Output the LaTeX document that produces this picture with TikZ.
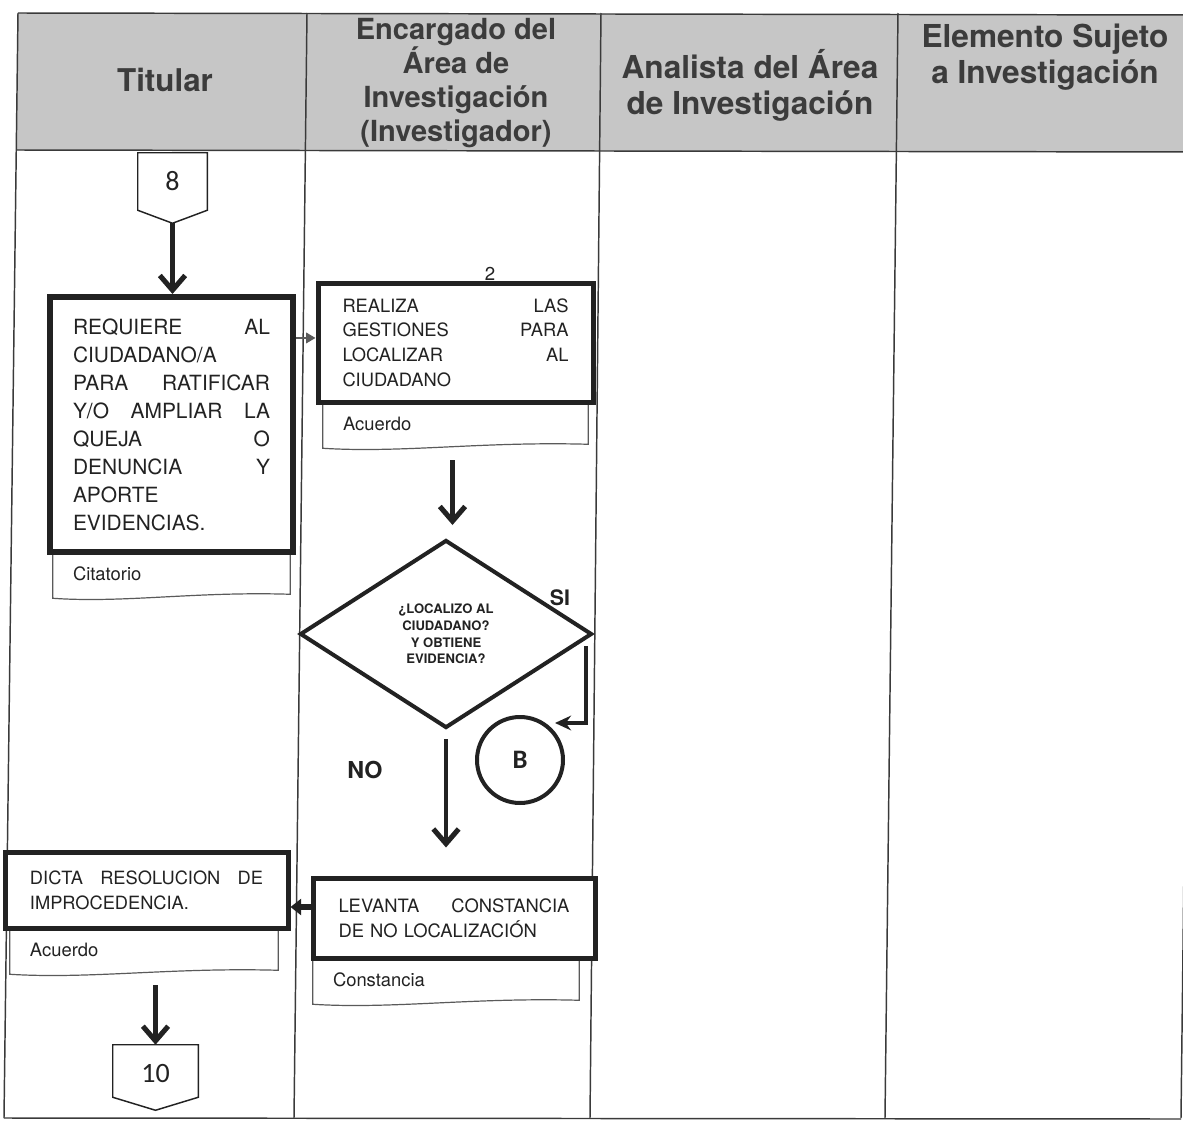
\documentclass[tikz,border=0pt]{standalone}
\usepackage{fontspec}
\setmainfont{TeX Gyre Heros}
\newfontfamily\calfont{Carlito}
\usetikzlibrary{arrows.meta,shapes.geometric,calc}
\definecolor{hdrfill}{HTML}{C6C6C6}
\definecolor{hdrtext}{HTML}{3C3C3C}
\definecolor{inkc}{HTML}{222222}
\definecolor{linec}{HTML}{3A3A3A}
\definecolor{docc}{HTML}{5A5A5A}
\newcommand\docshape[1]{\draw[docline] (#1.north west) -- ($(#1.south west)+(0,2)$)
  .. controls ($(#1.south west)!0.3!(#1.south east)+(0,7)$) and ($(#1.south west)!0.6!(#1.south east)+(0,-5)$)
  .. ($(#1.south east)+(0,-2)$) -- (#1.north east);}
\begin{document}
\begin{tikzpicture}[x=0.75pt,y=-0.75pt,
  lanes/.style={draw=linec, line width=1.1pt},
  hdr/.style={align=center, inner sep=0pt, text=hdrtext},
  procbox/.style={draw=inkc, fill=white, inner sep=0pt, align=left, text=inkc},
  docbox/.style={inner sep=0pt, align=left, text=inkc, font=\fontsize{13.8}{16}\selectfont},
  docline/.style={draw=docc, line width=0.9pt},
  offpage/.style={inner sep=0pt, text=inkc, font=\calfont\fontsize{21}{24}\selectfont},
  conn/.style={draw=inkc, line width=1.1pt, fill=white},
  chev/.style={draw=inkc, line width=3.5pt, -{Straight Barb[length=11pt,width=19pt,line width=3.8pt]}},
  thinarr/.style={draw=docc, line width=1pt, -{Triangle[length=7pt,width=8pt]}},
  fatarr/.style={draw=inkc, line width=4pt, -{Triangle[length=8pt,width=12pt]}},
  siarr/.style={draw=inkc, line width=3pt, -{Stealth[length=12pt,width=11pt]}},
  lbl/.style={inner sep=0pt, text=inkc, font=\bfseries}
]
\useasboundingbox (0,0) rectangle (1183,1121);
% header band and lanes
\fill[hdrfill] (18,13) -- (1195,15) -- (1195,152) -- (16.3,150) -- cycle;
\draw[lanes] (18,13) -- (1195,15);
\draw[lanes] (16.3,150) -- (1195,152);
\draw[lanes] (4,1118) -- (1181,1119);
\draw[lanes] (18,13) -- (4,1118);
\draw[lanes] (307,13) -- (294,1118);
\draw[lanes] (601,13) -- (590,1118);
\draw[lanes] (898,13) -- (885,1118);
\draw[lanes] (1194,13) -- (1181,1118);
% header texts
\node[hdr, font=\bfseries\fontsize{23.5}{27}\selectfont] (h1) at (165,80) {Titular};
\node[hdr, font=\bfseries\fontsize{21.8}{25.3}\selectfont] (h2) at (456,83) {Encargado del\\Área de\\Investigación\\(Investigador)};
\node[hdr, font=\bfseries\fontsize{23.7}{27}\selectfont] (h3) at (750,85) {Analista del Área\\de Investigación};
\node[hdr, font=\bfseries\fontsize{23.7}{27}\selectfont] (h4) at (1045,57) {Elemento Sujeto\\a Investigación};
% documents
\node[docbox, minimum width=177.75pt, minimum height=33pt, text width=147.75pt] (cit) at (171.5,574) {Citatorio};
\docshape{cit}
\node[docbox, minimum width=198.75pt, minimum height=33pt, text width=168.75pt] (acu2) at (455.5,424) {Acuerdo};
\docshape{acu2}
\node[docbox, minimum width=199.5pt, minimum height=33pt, text width=169.5pt] (cons) at (446,980) {Constancia};
\docshape{cons}
\node[docbox, minimum width=201pt, minimum height=33pt, text width=171pt] (acu1) at (144,950) {Acuerdo};
\docshape{acu1}
% off-page connectors
\node[offpage, minimum width=51.75pt, minimum height=42.75pt] (c8) at (172.5,181.5) {};
\draw[conn] (c8.north west) -- (c8.north east) -- (c8.south east) -- ($(c8.south)+(0,13)$) coordinate (c8p) -- (c8.south west) -- cycle;
\node[offpage] (c8t) at (c8) {8};
\node[offpage, minimum width=63.75pt, minimum height=39pt] (c10) at (155.5,1071) {};
\draw[conn] (c10.north west) -- (c10.north east) -- (c10.south east) -- ($(c10.south)+(0,13)$) -- (c10.south west) -- cycle;
\node[offpage] (c10t) at (155.5,1074) {10};
% small number above box 2
\node[inner sep=0pt, text=inkc, font=\fontsize{14}{16}\selectfont] (n2) at (490,274) {2};
% process boxes
\node[procbox, line width=4.5pt, minimum width=182.25pt, minimum height=191.25pt, text width=147.75pt,
  font=\fontsize{15.7}{21}\selectfont] (req) at (171.5,424.5)
  {REQUIERE\hfill AL\\CIUDADANO/A\\PARA\hfill RATIFICAR\\Y/O\hfill AMPLIAR\hfill LA\\QUEJA\hfill O\\DENUNCIA\hfill Y\\APORTE\\EVIDENCIAS.};
\node[procbox, line width=3.75pt, minimum width=206.25pt, minimum height=89.25pt, text width=169.5pt,
  font=\fontsize{13.75}{18.5}\selectfont] (rea) at (455.5,342.5)
  {REALIZA\hfill LAS\\GESTIONES\hfill PARA\\LOCALIZAR\hfill AL\\CIUDADANO};
\node[procbox, line width=3.75pt, minimum width=211.5pt, minimum height=60pt, text width=173.25pt,
  font=\fontsize{13.8}{18.75}\selectfont] (lev) at (454,918)
  {LEVANTA\hfill CONSTANCIA\\DE NO LOCALIZACIÓN};
\node[procbox, line width=3.75pt, minimum width=212.25pt, minimum height=57pt, text width=174.75pt,
  font=\fontsize{13.7}{18.75}\selectfont] (dict) at (146.5,890)
  {DICTA\hfill RESOLUCION\hfill DE\\IMPROCEDENCIA.};
% decision
\node[diamond, draw=inkc, fill=white, line width=3pt, aspect=1.553, minimum width=219pt, minimum height=141pt,
  inner sep=0pt, align=center, text=inkc, font=\bfseries\fontsize{9.8}{12.4}\selectfont] (dia) at (446,634)
  {¿LOCALIZO AL\\CIUDADANO?\\Y OBTIENE\\EVIDENCIA?};
\node[circle, draw=inkc, line width=3pt, minimum size=64.5pt, inner sep=0pt, text=inkc,
  font=\calfont\bfseries\fontsize{20}{22}\selectfont] (B) at (520,760) {B};
\node[lbl, font=\bfseries\fontsize{16}{18}\selectfont] (si) at (560,598) {SI};
\node[lbl, font=\bfseries\fontsize{17.5}{19}\selectfont] (no) at (365,770) {NO};
% connectors
\draw[chev] (c8p) -- (c8p |- req.north);
\draw[thinarr] ([yshift=3.4pt]rea.west -| req.east) -- ([yshift=3.4pt]rea.west);
\coordinate (a2s) at ($(acu2.south)+(-3,14)$);
\draw[chev, shorten >=9.75pt] (a2s) -- (a2s |- dia.north);
\draw[siarr] ($(dia.east)+(-8,12)$) |- ($(B.center)+(35,-37)$);
\draw[chev, shorten <=6.75pt, shorten >=21pt] (dia.south) -- (dia.south |- lev.north);
\draw[fatarr] ([yshift=8.25pt]lev.west) -- ([yshift=8.25pt]lev.west -| dict.east);
\draw[chev, shorten <=9.75pt] (c10.north |- acu1.south) -- (c10.north);
\end{tikzpicture}
\end{document}
